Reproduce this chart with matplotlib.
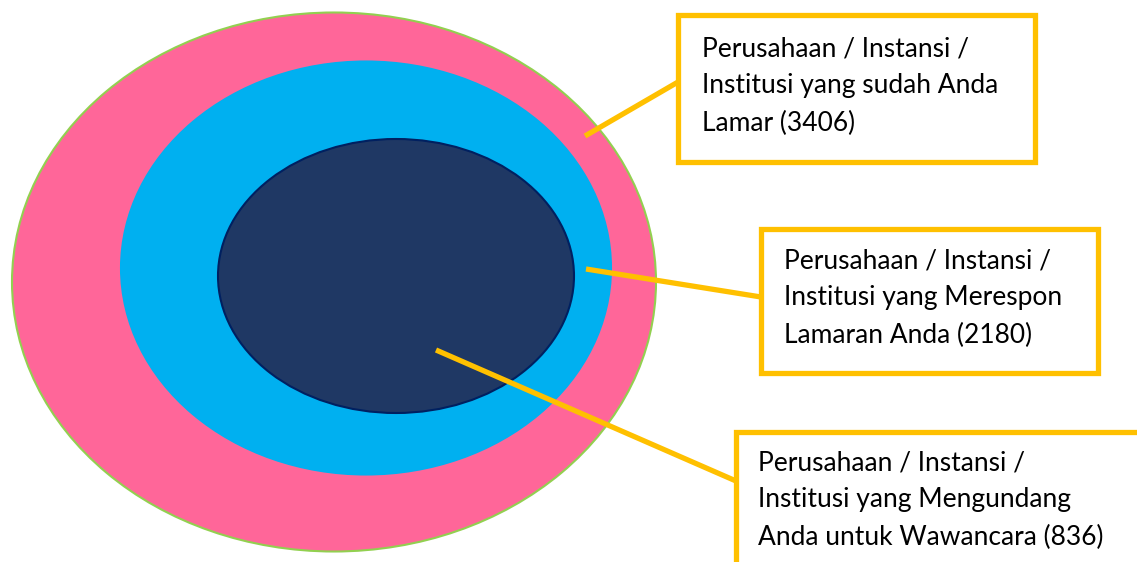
import matplotlib.pyplot as plt
from matplotlib.patches import Ellipse, Rectangle

# Data
labels = [
    "Perusahaan / Instansi /\nInstitusi yang sudah Anda\nLamar",
    "Perusahaan / Instansi /\nInstitusi yang Merespon\nLamaran Anda",
    "Perusahaan / Instansi /\nInstitusi yang Mengundang\nAnda untuk Wawancara",
]
counts = [3406, 2180, 836]

# Layout (pixels, y down)
ellipses = [((334, 282), 644, 539, "#FF6699", "#92D050"),
            ((366, 268), 490, 413, "#00B0F0", "#00B0F0"),
            ((396, 276), 356, 274, "#1F3864", "#002060")]
boxes = [(678, 15, 357, 147), (761, 229, 337, 144), (736, 432, 420, 150)]
text_pos = [(702, 86), (784, 298), (758, 500)]
connectors = [((585, 136), (678, 82)), ((586, 269), (761, 297)), ((436, 350), (736, 481))]
gold = "#FFC000"

fig = plt.figure(figsize=(11.37, 5.62), dpi=100)
ax = fig.add_axes([0, 0, 1, 1])
ax.set_xlim(0, 1137)
ax.set_ylim(562, 0)
ax.axis("off")

for (c, w, h, fc, ec) in ellipses:
    ax.add_patch(Ellipse(c, w, h, facecolor=fc, edgecolor=ec, linewidth=1.5))

for (p0, p1) in connectors:
    ax.plot([p0[0], p1[0]], [p0[1], p1[1]], color=gold, linewidth=3.8,
            solid_capstyle="butt")

for (x, y, w, h), (tx, ty), lab, n in zip(boxes, text_pos, labels, counts):
    ax.add_patch(Rectangle((x, y), w, h, facecolor="white", edgecolor=gold,
                           linewidth=3.8, clip_on=False))
    ax.text(tx, ty, f"{lab} ({n})", ha="left", va="center", fontsize=19,
            family="Lato", linespacing=1.6, color="black")

fig.savefig("out.png", dpi=100)
